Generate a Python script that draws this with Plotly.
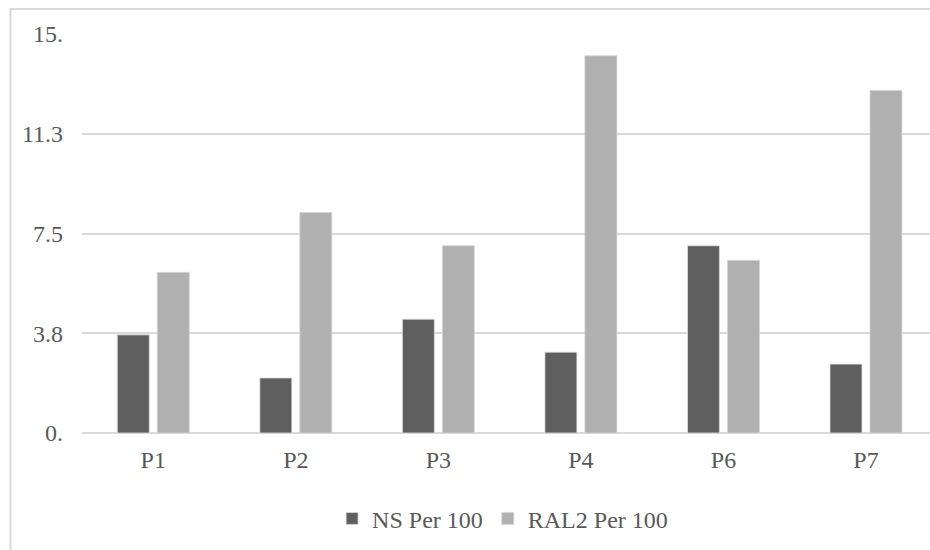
import plotly.graph_objects as go

# Categories and per-100 rates for the two series
categories = ["P1", "P2", "P3", "P4", "P6", "P7"]
ns_per_100 = [3.69, 2.07, 4.28, 3.04, 7.04, 2.59]
ral2_per_100 = [6.04, 8.29, 7.04, 14.18, 6.49, 12.88]

# Y axis ticks and their printed labels
y_tick_values = [0, 3.75, 7.5, 11.25, 15]
y_tick_labels = ["0.", "3.8", "7.5", "11.3", "15."]

FONT = "Liberation Serif"
TEXT = "#595959"
GRID = "#d9d9d9"

fig = go.Figure()
fig.add_trace(go.Bar(
    name="NS Per 100", x=categories, y=ns_per_100,
    marker=dict(color="#5f5f5f", line=dict(color="#e0e0e0", width=0.8)),
))
fig.add_trace(go.Bar(
    name="RAL2 Per 100", x=categories, y=ral2_per_100,
    marker=dict(color="#b0b0b0", line=dict(color="#d6d6d6", width=0.8)),
))

# outer chart frame (only the top and left edges fall inside the view)
fig.add_shape(
    type="rect", xref="paper", yref="paper",
    x0=-0.0843, x1=1.3, y0=-0.6, y1=1.0625,
    line=dict(color=GRID, width=2), fillcolor="rgba(0,0,0,0)", layer="below",
)

fig.update_layout(
    width=930, height=550,
    margin=dict(l=82, r=0, t=33.5, b=116.5),
    paper_bgcolor="white", plot_bgcolor="white",
    barmode="group", bargap=0.439, bargroupgap=0.2,
    font=dict(family=FONT, size=24, color=TEXT),
    showlegend=True,
    legend=dict(
        orientation="h", x=0.496, xanchor="center", y=-0.215, yanchor="middle",
        font=dict(family=FONT, size=24, color=TEXT),
        itemwidth=30, tracegroupgap=0,
    ),
    xaxis=dict(
        range=[-0.5, 5.449], showgrid=False, zeroline=False, showline=False,
        ticks="", tickfont=dict(family=FONT, size=24, color=TEXT),
        ticklabelstandoff=10,
    ),
    yaxis=dict(
        range=[0, 15], tickmode="array", tickvals=y_tick_values, ticktext=y_tick_labels,
        showgrid=True, gridcolor=GRID, gridwidth=2,
        zeroline=True, zerolinecolor=GRID, zerolinewidth=2,
        showline=False, ticks="",
        tickfont=dict(family=FONT, size=24, color=TEXT),
        ticklabelstandoff=18,
    ),
)

fig.write_html("out.html")
